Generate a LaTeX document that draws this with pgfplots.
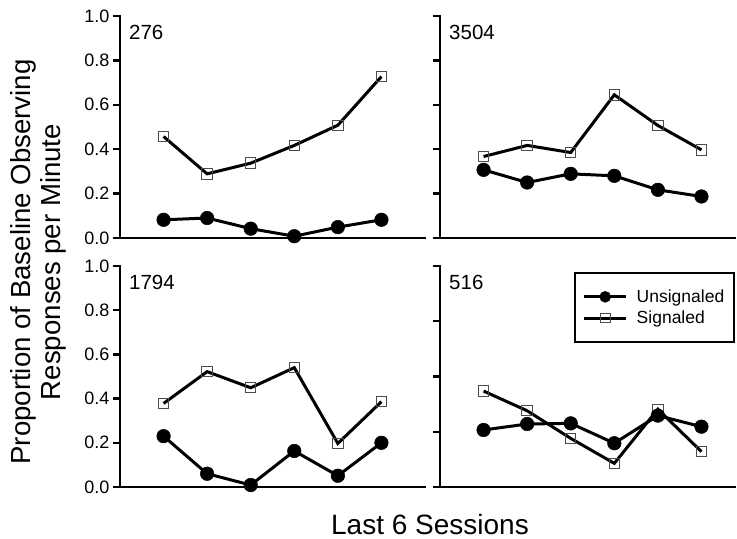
\documentclass[border=0pt]{standalone}
\usepackage{fontspec}
\setmainfont{Liberation Sans}
\usepackage{pgfplots}
\pgfplotsset{compat=1.18}

\pgfplotsset{
  panel/.style={
    scale only axis,
    xmin=0, ymin=0, ymax=1,
    axis x line=bottom, axis y line=left,
    axis line style={line width=2.8bp, -, line cap=rect},
    xtick=\empty,
    ytick={0,0.2,0.4,0.6,0.8,1.0},
    tick align=outside,
    major tick length=7bp,
    every tick/.style={line width=2.3bp, black},
    /pgf/number format/assume math mode=true,
    yticklabel style={/pgf/number format/fixed, /pgf/number format/fixed zerofill, /pgf/number format/precision=1, font=\fontsize{18bp}{21bp}\selectfont},
    clip=false,
    legend image code/.code={\draw[mark repeat=2,mark phase=2,##1] plot coordinates {(0bp,0bp) (21bp,0bp) (42bp,0bp)};},
  },
  unsig/.style={black, line width=3bp, mark=*, mark size=6.8bp, mark options={fill=black, line width=0.5bp, solid}},
  sig/.style={black, line width=3bp, mark=square, mark size=5.2bp, mark options={draw=black!70, line width=1bp, fill=none, solid}},
}
\newcommand{\panellabel}[1]{\node[anchor=base west, inner sep=0pt, xshift=9bp, font=\fontsize{20.5bp}{24bp}\selectfont] at (rel axis cs:0,0.895) {#1};}

\begin{document}
\begin{tikzpicture}
\useasboundingbox (0,0) rectangle (737bp,539bp);

% top-left: 276
\begin{axis}[panel, at={(120bp,301bp)}, anchor=south west, width=305bp, height=222bp, xmax=7]
\addplot[sig] coordinates {(1,0.457) (2,0.289) (3,0.337) (4,0.417) (5,0.508) (6,0.727)};
\addplot[unsig] coordinates {(1,0.082) (2,0.090) (3,0.042) (4,0.008) (5,0.049) (6,0.082)};
\panellabel{276}
\end{axis}

% top-right: 3504
\begin{axis}[panel, at={(440bp,301bp)}, anchor=south west, width=295bp, height=222bp, xmax=6.77, yticklabels={}]
\addplot[sig] coordinates {(1,0.367) (2,0.417) (3,0.385) (4,0.645) (5,0.507) (6,0.397)};
\addplot[unsig] coordinates {(1,0.307) (2,0.250) (3,0.289) (4,0.280) (5,0.217) (6,0.187)};
\panellabel{3504}
\end{axis}

% bottom-left: 1794
\begin{axis}[panel, at={(120bp,52bp)}, anchor=south west, width=305bp, height=221bp, xmax=7]
\addplot[sig] coordinates {(1,0.378) (2,0.522) (3,0.449) (4,0.540) (5,0.197) (6,0.386)};
\addplot[unsig] coordinates {(1,0.230) (2,0.060) (3,0.009) (4,0.163) (5,0.051) (6,0.200)};
\panellabel{1794}
\end{axis}

% bottom-right: 516
\begin{axis}[panel, at={(440bp,52bp)}, anchor=south west, width=295bp, height=221bp, xmax=6.77,
  ytick={0,0.25,0.5,0.75,1}, yticklabels={},
  legend style={at={(rel axis cs:0.454,0.973)}, anchor=north west, draw=black, line width=1.6bp,
    inner xsep=8bp, inner ysep=15bp, row sep=3bp,
    font=\fontsize{17.5bp}{20bp}\selectfont,
    nodes={inner sep=2bp},
    /tikz/every odd column/.append style={column sep=7bp}},
  legend cell align=left]
\addplot[sig, forget plot] coordinates {(1,0.434) (2,0.345) (3,0.220) (4,0.107) (5,0.352) (6,0.160)};
\addplot[unsig, forget plot] coordinates {(1,0.258) (2,0.285) (3,0.288) (4,0.198) (5,0.323) (6,0.273)};
\addlegendimage{unsig, mark size=5.5bp}
\addlegendentry{Unsignaled}
\addlegendimage{sig, mark size=4.8bp}
\addlegendentry{Signaled}
\panellabel{516}
\end{axis}

\node[rotate=90, align=center, font=\fontsize{27.6bp}{30bp}\selectfont] at (38bp,277bp) {Proportion of Baseline Observing\\Responses per Minute};
\node[anchor=base, inner sep=0pt, font=\fontsize{28bp}{32bp}\selectfont] at (430bp,5bp) {Last 6 Sessions};
\end{tikzpicture}
\end{document}
